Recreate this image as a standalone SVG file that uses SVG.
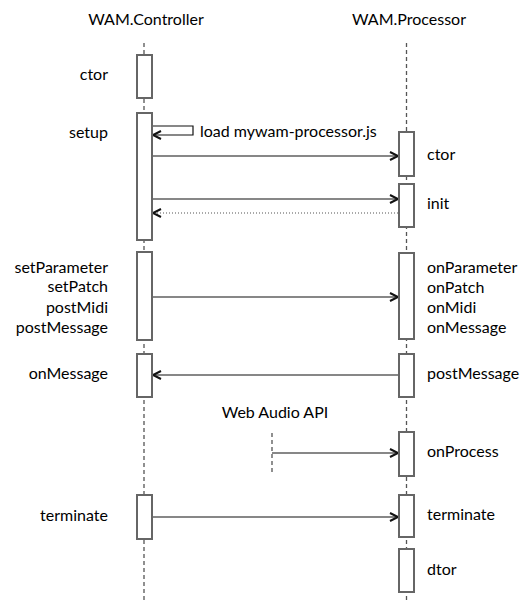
<svg xmlns="http://www.w3.org/2000/svg" width="520" height="604" viewBox="0 0 520 604">
<defs>
<style>
text{font-family:Lato,"Open Sans","DejaVu Sans",sans-serif;font-size:16px;fill:#000}
.r{text-anchor:end}
.m{text-anchor:middle}
.life{stroke:#555;stroke-width:1.3;stroke-dasharray:4,3;fill:none}
.act{fill:#fff;stroke:#666;stroke-width:2}
.msg{stroke:#111;stroke-width:1.2;fill:none}
.ret{stroke:#555;stroke-width:1.2;stroke-dasharray:1,2;fill:none}
</style>
<marker id="ah" markerWidth="12" markerHeight="12" refX="9" refY="5" orient="auto" markerUnits="userSpaceOnUse" viewBox="0 0 12 10">
<path d="M1,1 L9,5 L1,9" fill="none" stroke="#111" stroke-width="2"/>
</marker>
</defs>
<rect width="520" height="604" fill="#fff"/>
<g id="lifelines">
<text class="m" x="146" y="25">WAM.Controller</text>
<text class="m" x="409" y="25">WAM.Processor</text>
<line class="life" x1="144" y1="43" x2="144" y2="600"/>
<line class="life" x1="406.5" y1="43" x2="406.5" y2="600"/>
</g>
<g id="connectors">
<path class="msg" d="M152,126 H193 V135 H153" marker-end="url(#ah)"/>
<line class="msg" x1="152" y1="156" x2="398" y2="156" marker-end="url(#ah)"/>
<line class="msg" x1="152" y1="199" x2="398" y2="199" marker-end="url(#ah)"/>
<line class="ret" x1="398" y1="213" x2="153" y2="213" marker-end="url(#ah)"/>
<line class="msg" x1="152" y1="297" x2="398" y2="297" marker-end="url(#ah)"/>
<line class="msg" x1="398" y1="375" x2="153" y2="375" marker-end="url(#ah)"/>
<line class="life" x1="272" y1="433" x2="272" y2="474"/>
<line class="msg" x1="272" y1="453" x2="398" y2="453" marker-end="url(#ah)"/>
<line class="msg" x1="152" y1="517" x2="398" y2="517" marker-end="url(#ah)"/>
<text x="200" y="137">load mywam-processor.js</text>
<text class="m" x="275" y="418">Web Audio API</text>
</g>
<g id="c-ctor"><rect class="act" x="137" y="55" width="15" height="43"/><text class="r" x="108" y="80">ctor</text></g>
<g id="c-setup"><rect class="act" x="137" y="113" width="15" height="127"/><text class="r" x="108" y="138">setup</text></g>
<g id="c-set"><rect class="act" x="137" y="252" width="15" height="88"/>
<text class="r" x="108" y="273">setParameter</text><text class="r" x="108" y="292">setPatch</text><text class="r" x="108" y="313">postMidi</text><text class="r" x="108" y="333">postMessage</text></g>
<g id="c-onmsg"><rect class="act" x="137" y="354" width="15" height="43"/><text class="r" x="108" y="379">onMessage</text></g>
<g id="c-term"><rect class="act" x="137" y="495" width="15" height="44"/><text class="r" x="108" y="521">terminate</text></g>
<g id="p-ctor"><rect class="act" x="399" y="132" width="15" height="44"/><text x="427" y="160">ctor</text></g>
<g id="p-init"><rect class="act" x="399" y="184" width="15" height="43"/><text x="427" y="209">init</text></g>
<g id="p-on"><rect class="act" x="399" y="253" width="15" height="86"/>
<text x="427" y="273">onParameter</text><text x="427" y="293">onPatch</text><text x="427" y="313">onMidi</text><text x="427" y="333">onMessage</text></g>
<g id="p-post"><rect class="act" x="399" y="354" width="15" height="43"/><text x="427" y="379">postMessage</text></g>
<g id="p-proc"><rect class="act" x="399" y="432" width="15" height="44"/><text x="427" y="457">onProcess</text></g>
<g id="p-term"><rect class="act" x="399" y="495" width="15" height="42"/><text x="427" y="520">terminate</text></g>
<g id="p-dtor"><rect class="act" x="399" y="549" width="15" height="43"/><text x="427" y="575">dtor</text></g>
</svg>
